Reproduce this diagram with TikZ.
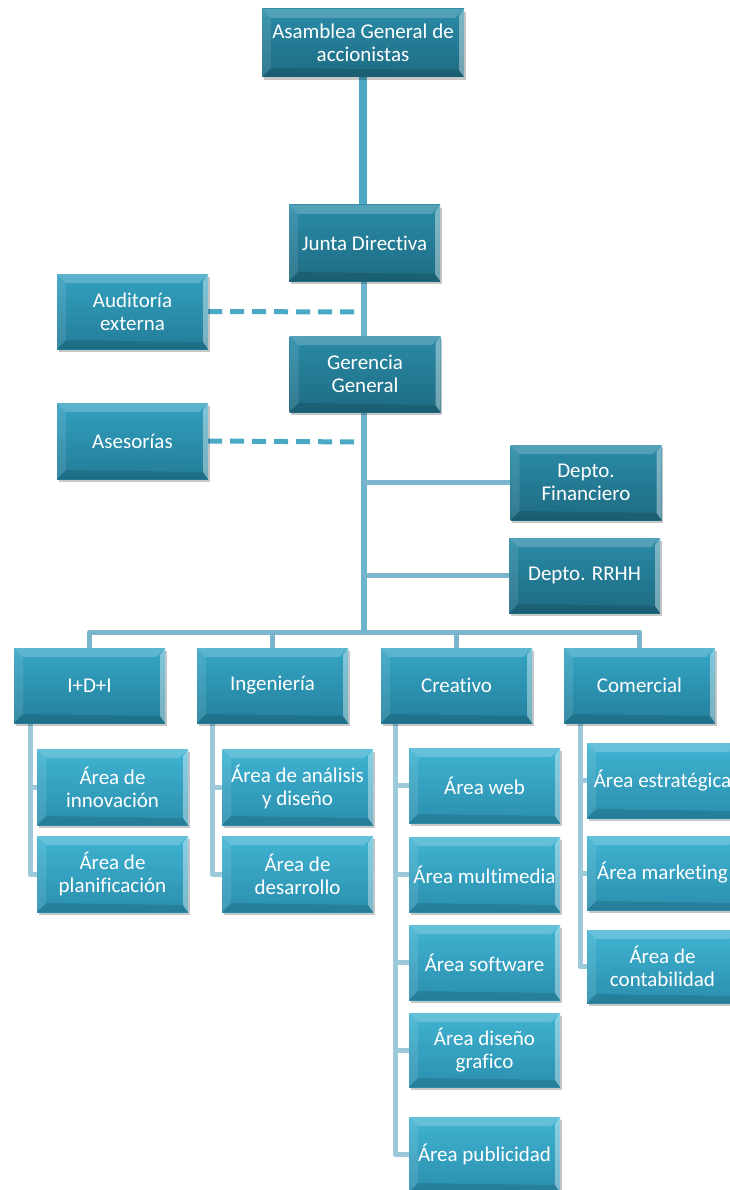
\documentclass[tikz,border=0pt]{standalone}
\usepackage{fontspec}
\setmainfont[Ligatures=NoCommon]{Carlito}
\usetikzlibrary{calc,shadows}

\pgfdeclarelayer{links}
\pgfsetlayers{links,main}

\definecolor{topline}{HTML}{4AAAC6}
\definecolor{trunk}{HTML}{6EB4CD}
\definecolor{busline}{HTML}{79B6CE}
\definecolor{subline}{HTML}{9CCADB}
\definecolor{dashline}{HTML}{4AAAC6}
\definecolor{aTop}{HTML}{2A8BA7}\definecolor{aBot}{HTML}{1E6B82}
\definecolor{sTop}{HTML}{33A0C0}\definecolor{sBot}{HTML}{237D98}
\definecolor{bTop}{HTML}{36A5C5}\definecolor{bBot}{HTML}{23809C}
\definecolor{cTop}{HTML}{40B3D2}\definecolor{cBot}{HTML}{2B8FAE}

\tikzset{
  bevel/.style={path picture={
    \path (path picture bounding box.north west) coordinate (bNW)
          (path picture bounding box.north east) coordinate (bNE)
          (path picture bounding box.south west) coordinate (bSW)
          (path picture bounding box.south east) coordinate (bSE);
    \fill[white,opacity=.20] (bNW) -- (bNE) -- ([shift={(-9pt,-9pt)}]bNE) -- ([shift={(9pt,-9pt)}]bNW) -- cycle;
    \fill[white,opacity=.10] (bNW) -- ([shift={(9pt,-9pt)}]bNW) -- ([shift={(9pt,9pt)}]bSW) -- (bSW) -- cycle;
    \fill[white,opacity=.38] (bNE) -- (bSE) -- ([shift={(-5pt,7pt)}]bSE) -- ([shift={(-5pt,-7pt)}]bNE) -- cycle;
    \fill[black,opacity=.12] (bSW) -- (bSE) -- ([shift={(-5pt,7pt)}]bSE) -- ([shift={(9pt,9pt)}]bSW) -- cycle;
  }},
  orgbox/.style={rectangle, inner sep=0pt, minimum width=151pt, minimum height=75pt,
    align=center, text=white, font=\fontsize{21}{23}\selectfont,
    drop shadow={shadow xshift=1.5pt, shadow yshift=-3pt, opacity=.22, fill=black},
    bevel},
  topbox/.style={orgbox, top color=aTop, bottom color=aBot},
  sidebox/.style={orgbox, top color=sTop, bottom color=sBot},
  deptbox/.style={orgbox, top color=bTop, bottom color=bBot},
  areabox/.style={orgbox, top color=cTop, bottom color=cBot},
  headlink/.style={draw=topline, line width=8pt},
  mainlink/.style={draw=trunk, line width=6pt},
  buslink/.style={draw=busline, line width=5pt, line join=round},
  sublink/.style={draw=subline, line width=5pt, line join=round},
  advlink/.style={draw=dashline, line width=5pt, dash pattern=on 14pt off 8pt},
}

\begin{document}
\begin{tikzpicture}[x=1pt, y=-1pt]
\useasboundingbox (0,0) rectangle (729,1190);

% junction points of the connectors
\coordinate (trunk) at (364,0);
\coordinate (bus) at (0,632);
\coordinate (idiL) at (30,0);
\coordinate (ingL) at (212,0);
\coordinate (creL) at (395,0);
\coordinate (comL) at (580,0);
\coordinate (auJ) at (361,312);
\coordinate (asJ) at (361,442);

% top management
\node[topbox, minimum width=202pt, minimum height=68pt] (asam) at (363,43) {Asamblea General de\\accionistas};
\node[topbox, minimum height=76pt] (junta) at (364.5,243) {Junta Directiva};
\node[topbox, minimum height=76pt] (geren) at (365,374) {Gerencia\\General};
\node[sidebox] (audit) at (132.5,311.5) {Auditoría\\externa};
\node[sidebox, minimum height=76pt] (asesor) at (132.5,441) {Asesorías};
\node[topbox] (fin) at (586,482.5) {Depto.\\Financiero};
\node[topbox] (rrhh) at (584.5,575.5) {Depto. RRHH};

% departments
\node[deptbox] (idi) at (89.5,685.5) {I+D+I};
\node[deptbox] (ing) at (272.5,685.5) {Ingeniería};
\node[deptbox] (cre) at (456.5,685.5) {Creativo};
\node[deptbox] (com) at (639.5,685.5) {Comercial};

% areas
\node[areabox, minimum height=76pt] (innov) at (112.5,787) {Área de\\innovación};
\node[areabox, minimum height=76pt] (planif) at (112.5,874) {Área de\\planificación};
\node[areabox, minimum height=76pt] (anal) at (297.5,787) {Área de análisis\\y diseño};
\node[areabox, minimum height=76pt] (desa) at (297.5,874) {Área de\\desarrollo};
\node[areabox] (web) at (484.5,785.5) {Área web};
\node[areabox] (multi) at (484.5,874.5) {Área multimedia};
\node[areabox] (soft) at (484.5,962.5) {Área software};
\node[areabox, minimum height=74pt] (disg) at (484.5,1050) {Área diseño\\grafico};
\node[areabox] (publi) at (484.5,1154.5) {Área publicidad};
\node[areabox] (estr) at (662.5,780.5) {Área estratégica};
\node[areabox, minimum height=74pt] (mark) at (662.5,873) {Área marketing};
\node[areabox, minimum height=73pt] (cont) at (662.5,966.5) {Área de\\contabilidad};

% connectors, kept behind the boxes
\begin{pgfonlayer}{links}
  \draw[headlink] (asam.south) -- (asam.south |- junta.north);
  \draw[mainlink] (trunk |- junta.south) -- (trunk |- bus);
  \draw[advlink] (audit.east) -- (auJ);
  \draw[advlink] (asesor.east) -- (asJ);
  \draw[buslink] (trunk |- fin.west) -- (fin.west);
  \draw[buslink] (trunk |- rrhh.west) -- (rrhh.west);
  \draw[buslink] (idi.north) -- (idi.north |- bus) -- (com.north |- bus) -- (com.north);
  \draw[buslink] (ing.north) -- (ing.north |- bus);
  \draw[buslink] (cre.north) -- (cre.north |- bus);
  % I+D+I
  \draw[sublink] (idiL |- idi.south) -- (idiL |- planif.west) -- (planif.west);
  \draw[sublink] (idiL |- innov.west) -- (innov.west);
  % Ingeniería
  \draw[sublink] (ingL |- ing.south) -- (ingL |- desa.west) -- (desa.west);
  \draw[sublink] (ingL |- anal.west) -- (anal.west);
  % Creativo
  \draw[sublink] (creL |- cre.south) -- (creL |- publi.west) -- (publi.west);
  \foreach \a in {web,multi,soft,disg}
    \draw[sublink] (creL |- \a.west) -- (\a.west);
  % Comercial
  \draw[sublink] (comL |- com.south) -- (comL |- cont.west) -- (cont.west);
  \foreach \a in {estr,mark}
    \draw[sublink] (comL |- \a.west) -- (\a.west);
\end{pgfonlayer}
\end{tikzpicture}
\end{document}
